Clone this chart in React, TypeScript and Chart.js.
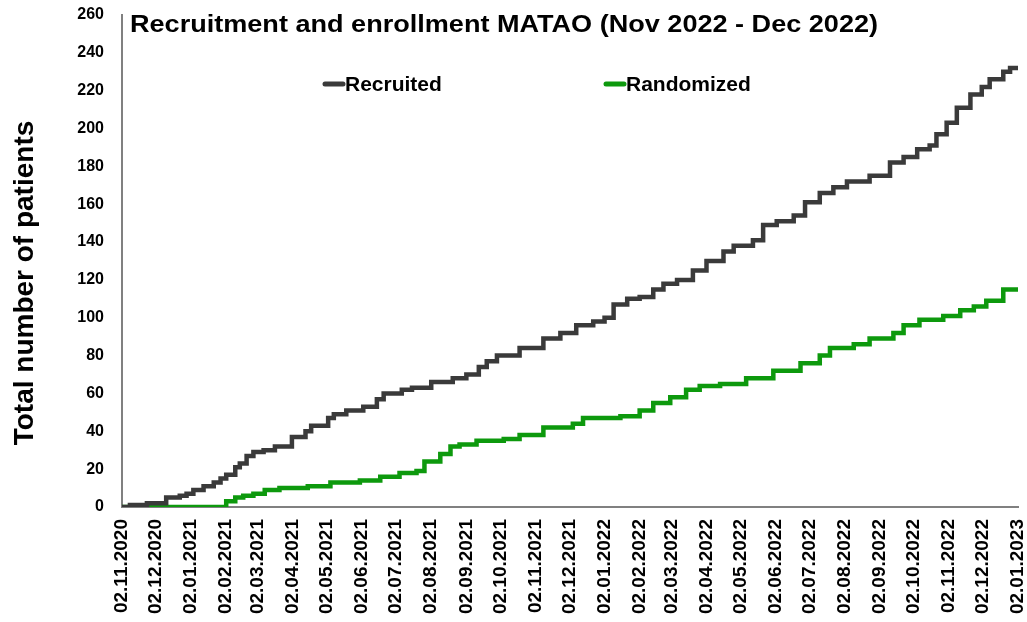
import { useEffect, useRef } from "react";
import { Chart, registerables } from "chart.js";

Chart.register(...registerables);

// ---------- data ----------
const chartTitle = "Recruitment and enrollment MATAO (Nov 2022 - Dec 2022)";
const yAxisTitle = "Total number of patients";
const seriesNames = ["Recruited", "Randomized"];
const seriesColors = ["#3a3a3a", "#0d990d"];
const startDate = "2020-11-02";

const monthTickLabels = [
  "02.11.2020", "02.12.2020", "02.01.2021", "02.02.2021", "02.03.2021", "02.04.2021",
  "02.05.2021", "02.06.2021", "02.07.2021", "02.08.2021", "02.09.2021", "02.10.2021",
  "02.11.2021", "02.12.2021", "02.01.2022", "02.02.2022", "02.03.2022", "02.04.2022",
  "02.05.2022", "02.06.2022", "02.07.2022", "02.08.2022", "02.09.2022", "02.10.2022",
  "02.11.2022", "02.12.2022", "02.01.2023",
];

const yMin = 0;
const yMax = 260;
const yStep = 20;

// days since 02.11.2020 at which the cumulative count changes
const recruitedDays = [
  0, 7, 22, 39, 51, 57, 63, 72, 81, 87, 92, 100, 104, 110, 116, 125, 135, 150, 162, 167,
  182, 187, 198, 213, 225, 231, 247, 256, 273, 292, 304, 315, 322, 331, 351, 372,
  387, 401, 416, 426, 434, 446, 457, 469, 478, 490, 504, 516, 531, 540, 557, 566, 578, 593,
  603, 616, 628, 640, 660, 678, 690, 702, 713, 719, 728, 737, 749, 759, 766, 778, 784, 791,
];
const recruitedCounts = [
  0, 1, 2, 5, 6, 7, 9, 11, 13, 15, 17, 21, 23, 27, 29, 30, 32, 37, 40, 43,
  47, 49, 51, 53, 57, 60, 62, 63, 66, 68, 70, 74, 77, 80, 84, 89,
  92, 96, 98, 100, 107, 110, 111, 115, 118, 120, 125, 130, 135, 138, 141, 149, 151, 154,
  161, 166, 169, 172, 175, 182, 185, 189, 191, 197, 203, 211, 218, 222, 226, 230, 232, 232,
];

const randomizedDays = [
  0, 92, 100, 107, 116, 126, 139, 164, 184, 210, 228, 245, 260, 267, 281, 290, 298, 313,
  337, 351, 372, 398, 407, 440, 457, 469, 484, 498, 510, 528, 551, 575, 599, 616, 625, 646,
  660, 681, 690, 704, 725, 740, 752, 763, 778, 791,
];
const randomizedCounts = [
  0, 3, 5, 6, 7, 9, 10, 11, 13, 14, 16, 18, 19, 24, 28, 32, 33, 35,
  36, 38, 42, 44, 47, 48, 51, 55, 58, 62, 64, 65, 68, 72, 76, 80, 84, 86,
  89, 92, 96, 99, 101, 104, 106, 109, 115, 115,
];

// ---------- helpers ----------
const DAY_MS = 86400000;
const startMs = Date.parse(startDate + "T00:00:00Z");
function labelToDay(label: string): number {
  const [d, m, y] = label.split(".").map(Number);
  return Math.round((Date.UTC(y, m - 1, d) - startMs) / DAY_MS);
}
const tickDays = monthTickLabels.map(labelToDay);

const FONT = "'Liberation Sans', Arial, Helvetica, sans-serif";

const overlayPlugin = {
  id: "overlayText",
  afterDraw(chart: any) {
    const ctx = chart.ctx as CanvasRenderingContext2D;
    ctx.save();
    // title
    ctx.fillStyle = "#000";
    ctx.textBaseline = "alphabetic";
    ctx.textAlign = "left";
    ctx.font = `bold 23px ${FONT}`;
    const w = ctx.measureText(chartTitle).width;
    const target = 748;
    ctx.save();
    ctx.translate(130, 32);
    ctx.scale(target / w, 1);
    ctx.fillText(chartTitle, 0, 0);
    ctx.restore();

    // y-axis title
    ctx.save();
    ctx.translate(25, 283);
    ctx.rotate(-Math.PI / 2);
    ctx.textAlign = "center";
    ctx.textBaseline = "middle";
    ctx.font = `bold 28px ${FONT}`;
    ctx.fillText(yAxisTitle, 0, 0);
    ctx.restore();

    // legend
    const items = [
      { x: 323, text: seriesNames[0], color: seriesColors[0] },
      { x: 604, text: seriesNames[1], color: seriesColors[1] },
    ];
    ctx.font = `bold 21px ${FONT}`;
    ctx.textAlign = "left";
    ctx.textBaseline = "alphabetic";
    for (const it of items) {
      ctx.strokeStyle = it.color;
      ctx.lineWidth = 5;
      ctx.lineCap = "round";
      ctx.beginPath();
      ctx.moveTo(it.x + 2, 84);
      ctx.lineTo(it.x + 20, 84);
      ctx.stroke();
      ctx.fillStyle = "#000";
      ctx.fillText(it.text, it.x + 22, 91);
    }
    ctx.restore();
  },
};

export default function App() {
  const canvasRef = useRef<HTMLCanvasElement | null>(null);

  useEffect(() => {
    if (!canvasRef.current) return;
    const recruited = recruitedDays.map((d, i) => ({ x: d, y: recruitedCounts[i] }));
    const randomized = randomizedDays.map((d, i) => ({ x: d, y: randomizedCounts[i] }));

    const chart = new Chart(canvasRef.current, {
      type: "line",
      data: {
        datasets: [
          {
            label: seriesNames[0],
            data: recruited,
            borderColor: seriesColors[0],
            backgroundColor: seriesColors[0],
            borderWidth: 4.5,
            pointRadius: 0,
            stepped: true,
            fill: false,
          },
          {
            label: seriesNames[1],
            data: randomized,
            borderColor: seriesColors[1],
            backgroundColor: seriesColors[1],
            borderWidth: 4.5,
            pointRadius: 0,
            stepped: true,
            fill: false,
          },
        ],
      },
      options: {
        animation: false,
        responsive: true,
        maintainAspectRatio: false,
        layout: { padding: { top: 15, right: 9, left: 0, bottom: 0 } },
        plugins: {
          legend: { display: false },
          title: { display: false },
          tooltip: { enabled: false },
        },
        scales: {
          x: {
            type: "linear",
            min: tickDays[0],
            max: tickDays[tickDays.length - 1],
            grid: { display: false, drawTicks: false },
            border: { display: true, color: "#808080", width: 2 },
            afterBuildTicks: (scale: any) => {
              scale.ticks = tickDays.map((v) => ({ value: v }));
            },
            afterFit: (scale: any) => {
              scale.height = 115;
              scale.paddingLeft = 0;
              scale.paddingRight = 0;
            },
            ticks: {
              autoSkip: false,
              maxRotation: 90,
              minRotation: 90,
              padding: 12,
              color: "#000",
              font: { family: FONT, size: 19, weight: "bold" },
              callback: (value: any) => {
                const idx = tickDays.indexOf(Number(value));
                return idx >= 0 ? monthTickLabels[idx] : "";
              },
            },
          },
          y: {
            min: yMin,
            max: yMax,
            grid: { display: false, drawTicks: false },
            border: { display: true, color: "#808080", width: 2 },
            afterFit: (scale: any) => {
              scale.width = 122;
              scale.paddingTop = 0;
              scale.paddingBottom = 0;
            },
            ticks: {
              stepSize: yStep,
              padding: 18,
              color: "#000",
              font: { family: FONT, size: 16, weight: "bold" },
            },
            title: { display: false, text: yAxisTitle },
          },
        },
      },
      plugins: [overlayPlugin],
    });
    return () => chart.destroy();
  }, []);

  return (
    <div style={{ position: "fixed", left: 0, top: 0, width: 1027, height: 622, background: "#fff" }}>
      <canvas ref={canvasRef} />
    </div>
  );
}
